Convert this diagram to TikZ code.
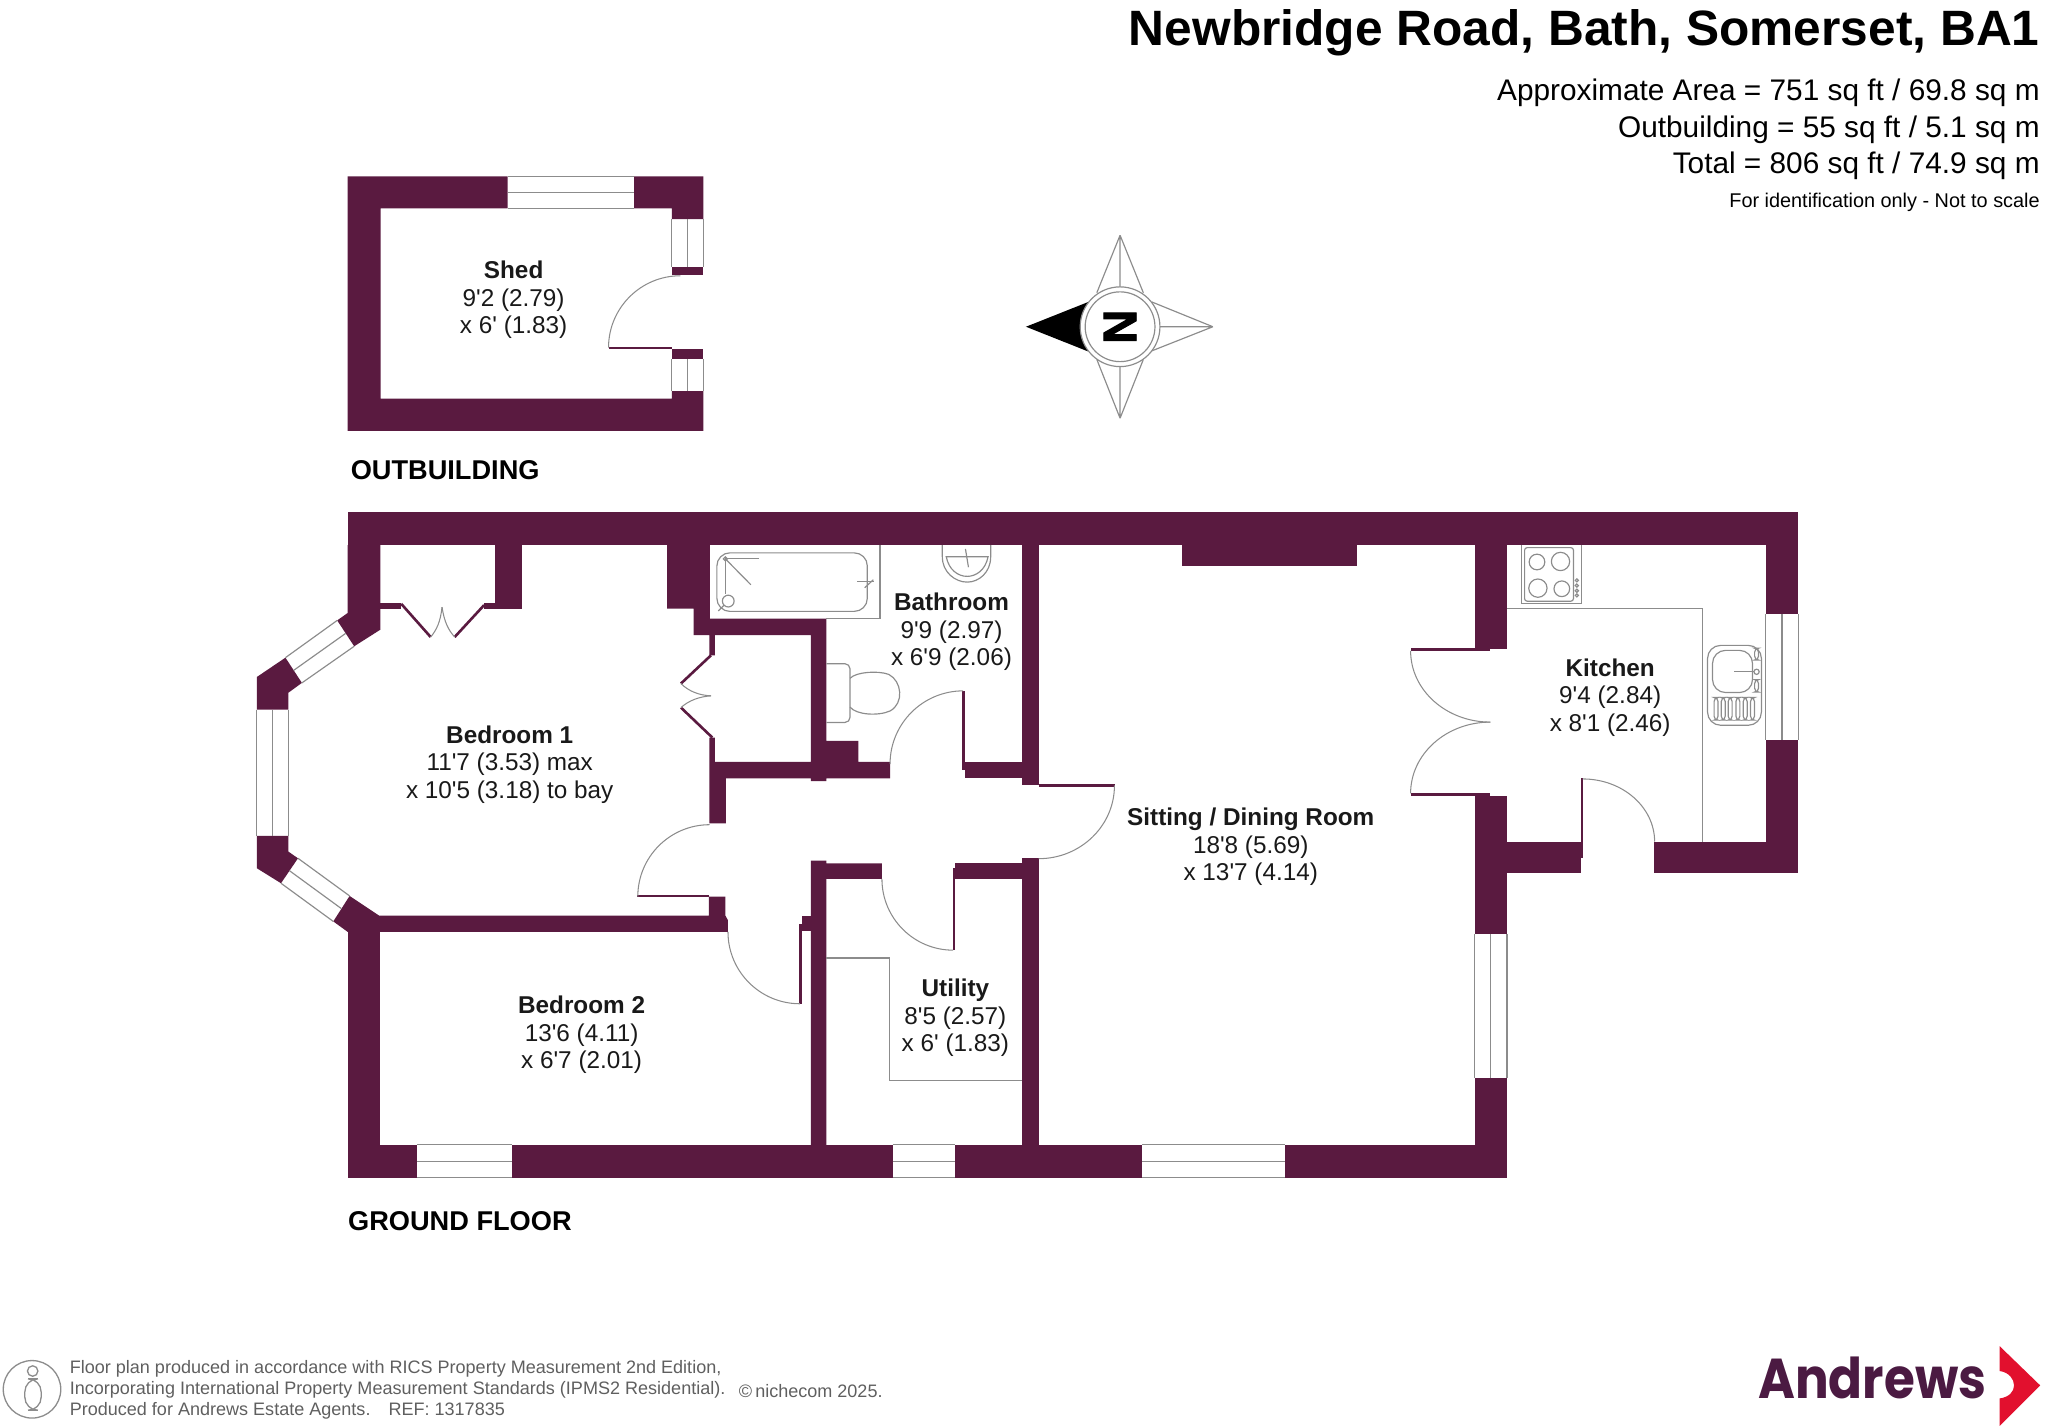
\documentclass[tikz,border=0pt]{standalone}
\usepackage{fontspec}
\setmainfont[Ligatures=TeXOff]{Liberation Sans}
\newfontfamily\logofont{Poppins}
\newfontfamily\northfont[FakeBold=2]{Liberation Sans Bold}
\usepackage{tikz}
\usetikzlibrary{positioning}
\definecolor{plum}{HTML}{5A1A40}
\definecolor{logoplum}{HTML}{4B1A42}
\definecolor{logored}{HTML}{E2102E}
\definecolor{linegray}{HTML}{8C8C8C}
\definecolor{foottext}{HTML}{5F5F5F}
\tikzstyle{wall} = [fill=plum]
\tikzstyle{winline} = [draw=linegray, line width=0.45pt]
\tikzstyle{doorline} = [draw=linegray, line width=0.4pt]
\tikzstyle{fixture} = [draw=linegray, line width=0.45pt]
\tikzstyle{unitline} = [draw=linegray, line width=0.45pt]
\tikzstyle{roomlabel} = [align=center, inner sep=0pt, text=black!90, font=\fontsize{9.3}{10.5}\selectfont]
\tikzstyle{floorlabel} = [anchor=west, inner sep=0pt, font=\bfseries\fontsize{10.4}{12}\selectfont]
\tikzstyle{arealine} = [inner sep=0pt, font=\fontsize{11.4}{13}\selectfont]
\tikzstyle{footline} = [anchor=west, inner sep=0pt, text=foottext, font=\fontsize{6.9}{8}\selectfont]

\begin{document}
\begin{tikzpicture}[x=0.5pt, y=-0.5pt]
    \useasboundingbox (0,0) rectangle (1567,1091.8);

    % Shed walls
    \fill [wall] (266,135) -- (388.4,135) -- (388.4,159.4) -- (291.2,159.4) -- (291.2,305) -- (514,305) -- (514,299.2) -- (538.2,299.2) -- (538.2,329.7) -- (266,329.7) -- cycle;
    \fill [wall] (485.2,135) -- (538.2,135) -- (538.2,167.6) -- (514,167.6) -- (514,159.4) -- (485.2,159.4) -- cycle;
    \fill [wall] (514,204.5) rectangle (538.2,210.3);
    \fill [wall] (514,266.8) rectangle (538.2,275);
    \fill [wall] (465.6,265.6) rectangle (514,267.4);
    % Shed windows and door
    \path [winline] (388.4,135) -- (485.2,135) (388.4,147.2) -- (485.2,147.2) (388.4,159.4) -- (485.2,159.4);
    \path [winline] (514,167.6) -- (514,204.5) (526,167.6) -- (526,204.5) (538.2,167.6) -- (538.2,204.5);
    \path [winline] (514,275) -- (514,299.2) (526,275) -- (526,299.2) (538.2,275) -- (538.2,299.2);
    \path [doorline] (465.6,266) arc[start angle=180, end angle=270, radius=55];

    % Outer walls of the ground floor
    \fill [wall] (266,392) rectangle (1376,417);
    \fill [wall] (266,417) -- (291,417) -- (291,481.8) -- (271,494.5) -- (258,474.7) -- (266,469) -- cycle;
    \fill [wall] (218.4,503.2) -- (196.5,518) -- (196.5,543) -- (220.7,543) -- (220.7,530) -- (231,522.5) -- cycle;
    \fill [wall] (196.5,639.6) -- (220.7,639.6) -- (220.7,651.6) -- (228,656.7) -- (215,675.8) -- (196.5,664.3) -- cycle;
    \fill [wall] (267.5,685.5) -- (290,700.5) -- (542.4,700.5) -- (542.4,686) -- (555,686) -- (555,700.5) -- (556.9,704) -- (556.9,713) -- (266,713) -- (255,705) -- cycle;
    \fill [wall] (266,713) rectangle (291,901);
    \fill [wall] (291,876) rectangle (319,901);
    \fill [wall] (392,876) rectangle (683,901);
    \fill [wall] (731,876) rectangle (874,901);
    \fill [wall] (983,876) rectangle (1153,901);
    \fill [wall] (1128.3,825) rectangle (1153,876);
    \fill [wall] (1128.3,609) rectangle (1153,714.7);
    \fill [wall] (1128.3,417) rectangle (1153,496.3);
    \fill [wall] (1153,644) rectangle (1209.8,668.2);
    \fill [wall] (1265.8,644) rectangle (1375.8,668.2);
    \fill [wall] (1351,417) rectangle (1375.8,469.6);
    \fill [wall] (1351,566.3) rectangle (1375.8,668.2);

    % Inner walls
    \fill [wall] (378.6,417) rectangle (399.6,465.7);
    \fill [wall] (290,461.4) rectangle (307,465.7);
    \fill [wall] (370.4,461.4) rectangle (378.6,465.7);
    \fill [wall] (510.4,417) -- (543.2,417) -- (543.2,473.4) -- (632.3,473.4) -- (632.3,566.8) -- (656.8,566.8) -- (656.8,582.9) -- (681,582.9) -- (681,595.6) -- (632.3,595.6) -- (632.3,597.6) -- (620.4,597.6) -- (620.4,595.6) -- (555.4,595.6) -- (555.4,630) -- (542.7,630) -- (542.7,564.3) -- (547,564.3) -- (547,582.9) -- (620.4,582.9) -- (620.4,486) -- (547,486) -- (547,501.4) -- (542.7,501.4) -- (542.7,486) -- (530.7,486) -- (530.7,465.7) -- (510.4,465.7) -- cycle;
    \fill [wall] (738,582.9) rectangle (782,595.6);
    \fill [wall] (736.2,528.6) rectangle (738,589);
    \fill [wall] (782,417) rectangle (794.7,600.7);
    \fill [wall] (794.7,600) rectangle (852.8,602);
    \fill [wall] (782,656.7) rectangle (794.7,876);
    \fill [wall] (620.4,658.5) -- (632.3,658.5) -- (632.3,660.5) -- (674.8,660.5) -- (674.8,672.5) -- (632.3,672.5) -- (632.3,876) -- (620.4,876) -- cycle;
    \fill [wall] (731,660.5) rectangle (782,672.5);
    \fill [wall] (729.3,664) rectangle (731,726.7);
    \fill [wall] (613.7,700.5) rectangle (620.4,712.7);
    \fill [wall] (611.6,706.8) rectangle (613.7,768);
    \fill [wall] (904,417) rectangle (1038,433);
    \fill [wall] (487.5,685) rectangle (542.4,686.6);
    \fill [wall] (1079.4,496) rectangle (1140.3,498);
    \fill [wall] (1079.4,607) rectangle (1140.3,609);
    \fill [wall] (1209.8,595.6) rectangle (1211.5,656.7);

    % Wardrobe doors
    \draw [plum, line width=1pt] (307,462) -- (329.5,487.4);
    \draw [plum, line width=1pt] (370.4,463) -- (347.9,487.4);
    \draw [plum, line width=1pt] (544,501.4) -- (521,523);
    \draw [plum, line width=1pt] (521,541.4) -- (545,564.3);
    \path [doorline] (329.5,487.4) .. controls (334,482) and (337,476) .. (338.2,464.5);
    \path [doorline] (347.9,487.4) .. controls (343,482) and (340,476) .. (338.2,464.5);
    \path [doorline] (521,523) .. controls (527,529) and (535,532) .. (544,532.4);
    \path [doorline] (521,541.4) .. controls (527,536) and (535,533) .. (544,532.4);

    % Door swings
    \path [doorline] (681,584.6) arc[start angle=180, end angle=270, radius=56];
    \path [doorline] (852.7,601) arc[start angle=0, end angle=90, x radius=58, y radius=56];
    \path [doorline] (488,686) arc[start angle=180, end angle=270, radius=55];
    \path [doorline] (557,713) arc[start angle=180, end angle=90, radius=55];
    \path [doorline] (674.8,672.5) arc[start angle=180, end angle=90, radius=54.5];
    \path [doorline] (1079.3,498) arc[start angle=180, end angle=90, x radius=61, y radius=54.5];
    \path [doorline] (1079.3,607) arc[start angle=180, end angle=270, x radius=61, y radius=54.5];
    \path [doorline] (1211,596) arc[start angle=270, end angle=360, x radius=55, y radius=48];

    % Windows
    \path [winline] (258,474.7) -- (218.4,503.2) (264.5,484.6) -- (224.7,512.9) (271,494.5) -- (231,522.5);
    \path [winline] (196.5,543) -- (196.5,639.6) (208.6,543) -- (208.6,639.6) (220.7,543) -- (220.7,639.6);
    \path [winline] (228,656.7) -- (267.5,685.5) (221.5,666.2) -- (261.2,695.2) (215,675.8) -- (255,705);
    \path [winline] (319,876) -- (392,876) (319,888.5) -- (392,888.5) (319,901) -- (392,901);
    \path [winline] (683,876) -- (731,876) (683,888.5) -- (731,888.5) (683,901) -- (731,901);
    \path [winline] (874,876) -- (983,876) (874,888.5) -- (983,888.5) (874,901) -- (983,901);
    \path [winline] (1128.3,714.7) -- (1128.3,825) (1140.6,714.7) -- (1140.6,825) (1153,714.7) -- (1153,825);
    \path [winline] (1351,469.6) -- (1351,566.3) (1363.4,469.6) -- (1363.4,566.3) (1375.8,469.6) -- (1375.8,566.3);

    % Units
    \path [unitline] (1153,465.7) -- (1302.7,465.7) -- (1302.7,644);
    \path [unitline] (632.3,733) -- (680.6,733) -- (680.6,827) -- (782,827);

    % Bath
    \path [fixture] (673.3,417) -- (673.3,473.4) -- (632.3,473.4);
    \draw [fixture, rounded corners=5] (548.5,423) rectangle (663.6,467.8);
    \path [fixture] (580.9,427.6) -- (555,427.6) -- (555,454.3);
    \path [fixture] (555,427.6) -- (574.5,447.4);
    \path [fixture] (555,427.6) circle[radius=1.5];
    \path [fixture] (557.2,459.9) circle[radius=4.5];
    \path [fixture] (554,463) -- (549.6,467.5);
    \path [fixture] (656,444.9) -- (668.7,444.9);
    \path [fixture] (661.6,449.7) -- (668.2,443.6);

    % Basin
    \path [fixture] (721,417) -- (721,426) .. controls (721,438) and (731,445.4) .. (740,445.4) .. controls (749,445.4) and (758,438) .. (758,426) -- (758,417);
    \path [fixture] (724,426) .. controls (726,436) and (733,441) .. (740,441) .. controls (747,441) and (754,436) .. (756,426) -- cycle;
    \path [fixture] (738.7,420) -- (741,434);

    % Toilet
    \path [fixture] (650.4,519) .. controls (655,514) and (672,513) .. (680,516) .. controls (690,521) and (692,538) .. (681,544) .. controls (672,548) and (655,547) .. (650.4,541);
    \draw [fixture, rounded corners=2] (632.3,507.8) -- (650.4,507.8) -- (650.4,552.8) -- (632.3,552.8);

    % Hob
    \draw [fixture] (1164.4,417) -- (1164.4,462) -- (1209.8,462) -- (1209.8,417);
    \draw [fixture, rounded corners=1] (1166.5,419) rectangle (1203.9,460);
    \path [fixture] (1176,430) circle[radius=6];
    \path [fixture] (1194,429.6) circle[radius=7];
    \path [fixture] (1176.7,450) circle[radius=7];
    \path [fixture] (1195,450.5) circle[radius=6];
    \path [fixture] (1206.5,444) circle[radius=1.2];
    \path [fixture] (1206.5,448) circle[radius=1.2];
    \path [fixture] (1206.5,452) circle[radius=1.2];
    \path [fixture] (1206.5,455.6) circle[radius=1.2];

    % Kitchen sink
    \draw [fixture, rounded corners=5] (1306.5,493.8) rectangle (1347.7,554.9);
    \draw [fixture, rounded corners=5] (1310.3,497.6) rectangle (1340.9,529.9);
    \path [fixture] (1326.9,514) -- (1342,514);
    \path [fixture] (1344,514) circle[radius=2];
    \draw [fixture, rounded corners=1.5] (1342.5,496) rectangle (1345.5,505);
    \draw [fixture, rounded corners=1.5] (1342.5,520) rectangle (1345.5,529.5);
    \draw [fixture, rounded corners=1.5] (1311.5,533.7) rectangle (1314.5,551);
    \draw [fixture, rounded corners=1.5] (1317,533.7) rectangle (1320,551);
    \draw [fixture, rounded corners=1.5] (1322.3,533.7) rectangle (1325.3,551);
    \draw [fixture, rounded corners=1.5] (1328.2,533.7) rectangle (1331.2,551);
    \draw [fixture, rounded corners=1.5] (1333.8,533.7) rectangle (1336.8,551);
    \draw [fixture, rounded corners=1.5] (1339.4,533.7) rectangle (1342.4,551);

    % Compass
    \path [fixture] (857,180) -- (839.2,224) (857,180) -- (874.8,224) (857,180) -- (857,220);
    \path [fixture] (928,250) -- (881.2,231) (928,250) -- (881.2,268.5) (928,250) -- (887,250);
    \path [fixture] (857,320) -- (839.2,275) (857,320) -- (874.8,275) (857,320) -- (857,280);
    \fill [black] (785,250) -- (832.8,231) -- (832.8,269) -- cycle;
    \draw [fixture, fill=white] (857,250) circle[radius=30.5];
    \path [fixture] (857,250) circle[radius=26.7];
    \node [rotate=90, inner sep=0pt, font=\northfont\fontsize{18}{18}\selectfont] (north) at (857,250) {N};

    % Place titles
    \node [anchor=east, inner sep=0pt, font=\bfseries\fontsize{19}{22}\selectfont] (title) at (1561,25) {Newbridge Road, Bath, Somerset, BA1};
    \node [arealine, anchor=east] (area) at (1561,71) {Approximate Area = 751 sq ft / 69.8 sq m};
    \node [arealine, below=14pt of area.east, anchor=east] (outarea) {Outbuilding = 55 sq ft / 5.1 sq m};
    \node [arealine, below=14pt of outarea.east, anchor=east] (total) {Total = 806 sq ft / 74.9 sq m};
    \node [inner sep=0pt, font=\fontsize{7.6}{10}\selectfont, below=14pt of total.east, anchor=east] (note) {For identification only - Not to scale};

    % Place room labels
    \node [roomlabel] (shed) at (393,229.5) {\textbf{Shed}\\9'2 (2.79)\\x 6' (1.83)};
    \node [roomlabel] (bed1) at (390,585) {\textbf{Bedroom 1}\\11'7 (3.53) max\\x 10'5 (3.18) to bay};
    \node [roomlabel] (bed2) at (445,792) {\textbf{Bedroom 2}\\13'6 (4.11)\\x 6'7 (2.01)};
    \node [roomlabel] (bath) at (728,483.5) {\textbf{Bathroom}\\9'9 (2.97)\\x 6'9 (2.06)};
    \node [roomlabel] (sitting) at (957,648) {\textbf{Sitting / Dining Room}\\18'8 (5.69)\\x 13'7 (4.14)};
    \node [roomlabel] (kitchen) at (1232,533.5) {\textbf{Kitchen}\\9'4 (2.84)\\x 8'1 (2.46)};
    \node [roomlabel] (utility) at (731,779) {\textbf{Utility}\\8'5 (2.57)\\x 6' (1.83)};
    \node [floorlabel] (outbuilding) at (268,360) {OUTBUILDING};
    \node [floorlabel] (ground) at (266,934) {GROUND FLOOR};

    % Place footer
    \draw [linegray, line width=0.5pt] (24.5,1063) circle[radius=22];
    \draw [linegray, line width=0.5pt] (25,1049) circle[radius=4];
    \draw [linegray, line width=0.5pt, rounded corners=5] (19,1055) rectangle (31.5,1079);
    \node [footline] (foot1) at (53,1047) {Floor plan produced in accordance with RICS Property Measurement 2nd Edition,};
    \node [footline, below=8.2pt of foot1.west, anchor=west] (foot2) {Incorporating International Property Measurement Standards (IPMS2 Residential).};
    \node [footline, below=8.2pt of foot2.west, anchor=west] (foot3) {Produced for Andrews Estate Agents.\hspace{1em}REF: 1317835};
    \node [footline] (niche) at (565,1064) {©\,nichecom 2025.};

    % Place logo
    \node [anchor=base west, inner sep=0pt, xscale=.89, text=logoplum, font=\logofont\bfseries\fontsize{21.5}{24}\selectfont] (andrews) at (1345,1070) {Andrews};
    \fill [logored] (1530,1030) -- (1561,1060) -- (1530,1091) -- (1530,1070) .. controls (1537,1069) and (1541,1065) .. (1541,1060) .. controls (1541,1055) and (1537,1050) .. (1530,1049) -- cycle;
\end{tikzpicture}
\end{document}
